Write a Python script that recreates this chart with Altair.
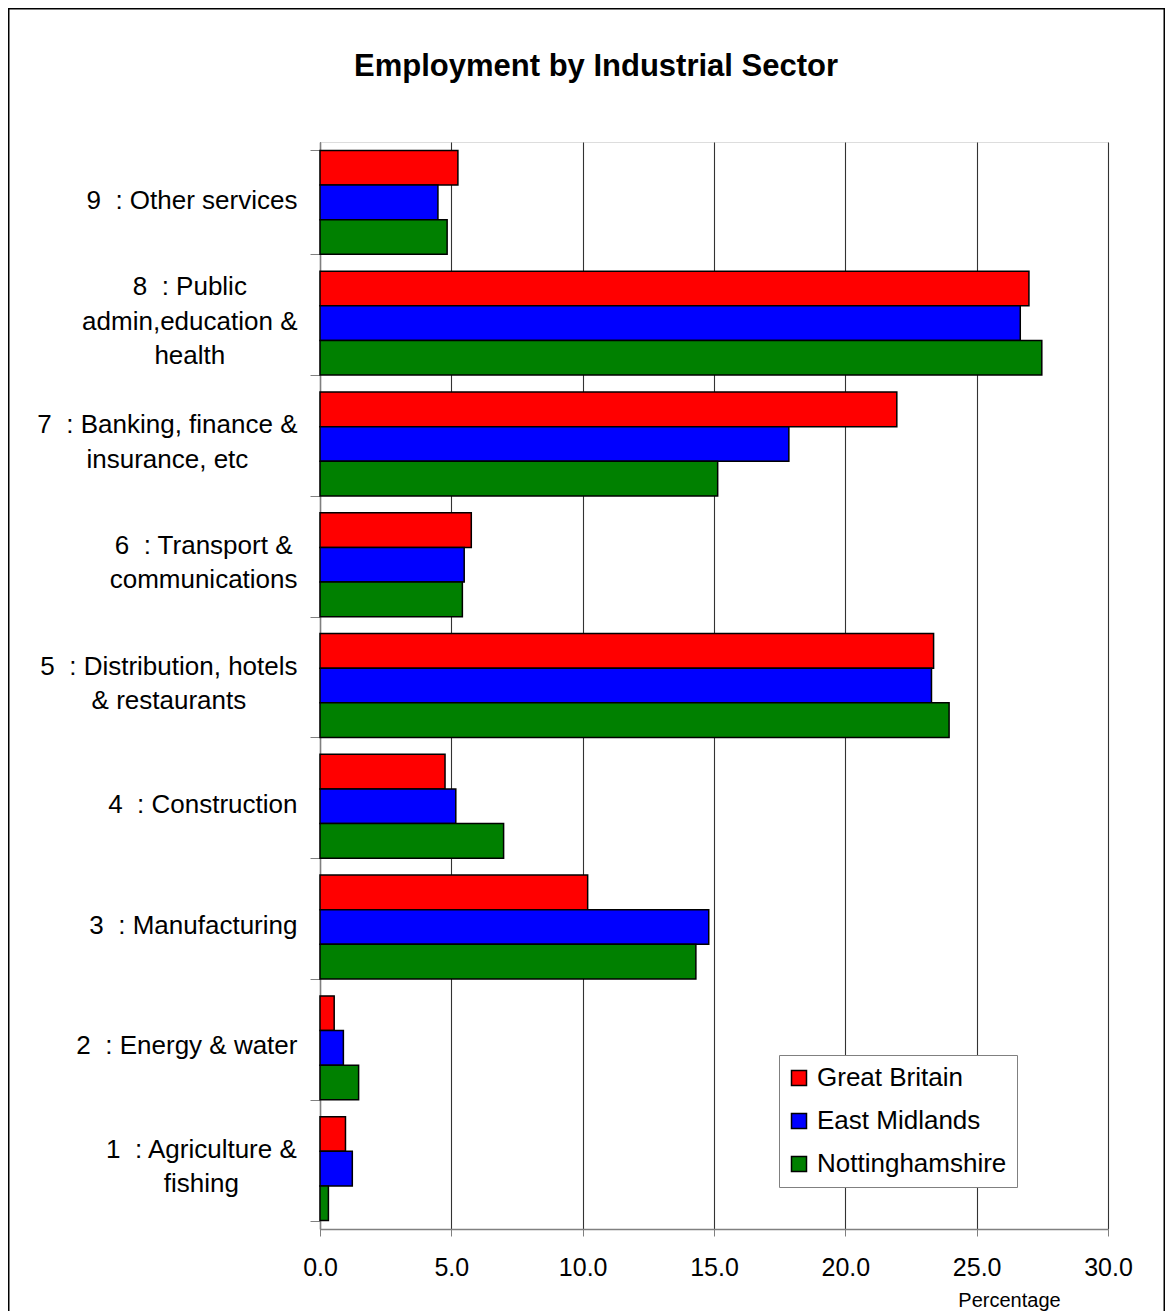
import json
import altair as alt
import pandas as pd

NB = "\u00a0"
sectors = [
    "1 " + NB + ": Agriculture &\nfishing",
    "2 " + NB + ": Energy & water",
    "3 " + NB + ": Manufacturing",
    "4 " + NB + ": Construction",
    "5 " + NB + ": Distribution, hotels\n& restaurants",
    "6 " + NB + ": Transport &\ncommunications",
    "7 " + NB + ": Banking, finance &\ninsurance, etc",
    "8 " + NB + ": Public\nadmin,education &\nhealth",
    "9 " + NB + ": Other services",
]
regions = ["Great Britain", "East Midlands", "Nottinghamshire"]
great_britain = [0.97, 0.54, 10.19, 4.76, 23.36, 5.76, 21.96, 26.99, 5.25]
east_midlands = [1.23, 0.89, 14.80, 5.17, 23.28, 5.49, 17.85, 26.66, 4.49]
nottinghamshire = [0.32, 1.47, 14.31, 6.99, 23.95, 5.42, 15.14, 27.48, 4.84]
x_ticks = [0, 5, 10, 15, 20, 25, 30]
title_text = "Employment by Industrial Sector"

LABEL_FS = 26
LINE_H = 34.5
TICK = 10
GAP = 13  # gap between the right edge of the label block and the ticks

# approximate Arial / Liberation Sans advance widths (per 1000 em)
_W = {" ": 278, NB: 278, "&": 667, ",": 278, ".": 278, ":": 278,
      "c": 500, "f": 278, "i": 222, "l": 222, "j": 222, "m": 833, "r": 333,
      "s": 500, "t": 278, "y": 500, "k": 500, "v": 500, "w": 722, "x": 500, "z": 500,
      "A": 667, "B": 667, "C": 722, "D": 722, "E": 667, "G": 778, "M": 833,
      "O": 778, "P": 667, "T": 611}


def block_width(label):
    return max(sum(_W.get(ch, 556) for ch in line) for line in label.split("\n")) * LABEL_FS / 1000


# label blocks are right-aligned as a whole, their lines centred
pads = [round(GAP + block_width(s) / 2, 1) for s in sectors]
pad_expr = (f"{json.dumps(pads)}[indexof({json.dumps(sectors)}, datum.value)]")

rows = []
for reg, vals in zip(regions, [great_britain, east_midlands, nottinghamshire]):
    for s, v in zip(sectors, vals):
        rows.append({"sector": s, "region": reg, "value": v})
df = pd.DataFrame(rows)

bars = alt.Chart(df).mark_bar(stroke="black", strokeWidth=1.5).encode(
    x=alt.X("value:Q",
            scale=alt.Scale(domain=[0, 30], nice=False),
            axis=alt.Axis(values=x_ticks, format=".1f", grid=True,
                          gridColor="#333333", gridWidth=1.1,
                          tickSize=7, tickColor="#808080",
                          domainColor="#808080", domainWidth=1.5,
                          labelFontSize=25, labelPadding=19, labelColor="black",
                          labelFlush=False,
                          title="Percentage", titleFontSize=20,
                          titleFontWeight="normal", titleColor="black",
                          titleX=689, titleY=77, titleAlign="center",
                          titleBaseline="alphabetic")),
    y=alt.Y("sector:N", sort=list(reversed(sectors)),
            scale=alt.Scale(paddingInner=0.14, paddingOuter=0.07),
            axis=alt.Axis(title=None, tickBand="extent", tickSize=TICK,
                          tickColor="#808080", domainColor="#808080",
                          domainWidth=1.5, labelFontSize=LABEL_FS,
                          labelAlign="center",
                          labelPadding=alt.ExprRef(pad_expr), labelLimit=400,
                          labelLineHeight=LINE_H, labelColor="black",
                          labelOffset=alt.ExprRef(
                              f"-(length(split(datum.value, '\\n')) - 1) * {LINE_H / 2} - 2"),
                          labelExpr="split(datum.label, '\\n')")),
    yOffset=alt.YOffset("region:N", sort=regions,
                        scale=alt.Scale(paddingInner=0, paddingOuter=0)),
    color=alt.Color("region:N", sort=regions,
                    scale=alt.Scale(domain=regions,
                                    range=["#FF0000", "#0000FF", "#008000"]),
                    legend=alt.Legend(title=None, orient="none",
                                      legendX=459, legendY=913,
                                      fillColor="white", strokeColor="#808080",
                                      padding=10, symbolType="square",
                                      symbolSize=225, symbolStrokeColor="black",
                                      symbolStrokeWidth=1.5, labelFontSize=26,
                                      symbolOffset=-3, labelLimit=400,
                                      rowPadding=17, labelOffset=5,
                                      labelColor="black")),
)

frame = alt.Chart(alt.Data(values=[{"k": 1}])).mark_rect(
    fill=None, fillOpacity=0, stroke="black", strokeWidth=1.5
).encode(
    x=alt.value(-311.25), x2=alt.value(844.25),
    y=alt.value(-133.25), y2=alt.value(1200),
)

title = alt.Chart(alt.Data(values=[{"t": title_text}])).mark_text(
    fontSize=31, fontWeight="bold", align="center", baseline="alphabetic",
    color="black"
).encode(
    text="t:N", x=alt.value(276), y=alt.value(-66),
)

chart = alt.layer(bars, frame, title).properties(
    width=788, height=1087,
    autosize=alt.AutoSizeParams(type="none"),
    padding={"left": 312, "top": 134, "right": 57, "bottom": 82},
    background="white",
).configure_view(
    fill="#FFFFCC", stroke="#808080", strokeWidth=1.5
).configure(
    font="Liberation Sans"
)

chart.save("out.html", embed_options={"renderer": "svg", "actions": False})
